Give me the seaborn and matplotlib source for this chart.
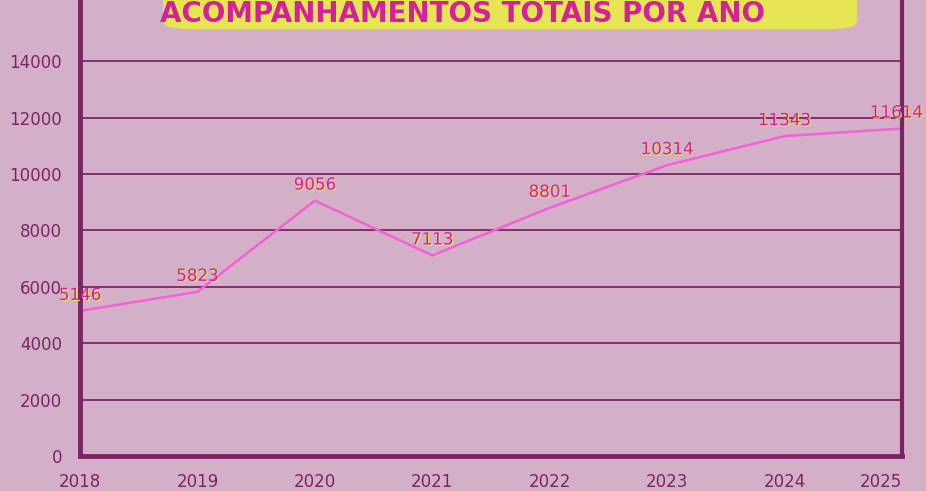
import numpy as np
import pandas as pd
import seaborn as sns
import matplotlib.pyplot as plt
import matplotlib.patheffects as pe
from matplotlib.patches import FancyBboxPatch

# Dados ########################################################################
anos = [2018, 2019, 2020, 2021, 2022, 2023, 2024, 2025]
acompanhamentos = [5146, 5823, 9056, 7113, 8801, 10314, 11343, 11614]
y_ticks = [0, 2000, 4000, 6000, 8000, 10000, 12000, 14000]
titulo = "ACOMPANHAMENTOS TOTAIS POR ANO"

df = pd.DataFrame({"ano": anos, "total": acompanhamentos})

# Cores #######################################################################
fundo = "#d4b0c8"
roxo = "#7a2563"
rosa_linha = "#f55fd8"
rosa_texto = "#d4209a"
amarelo = "#e6e655"

sns.set_theme(style="white")
plt.rcParams["font.family"] = ["DejaVu Sans"]

fig = plt.figure(figsize=(9.26, 4.91), dpi=100, facecolor=fundo)
ax = fig.add_axes([80 / 926, 1 - 456 / 491, 822 / 926, 456 / 491])
ax.set_facecolor(fundo)

sns.lineplot(data=df, x="ano", y="total", color=rosa_linha, linewidth=1.8, ax=ax)

for i, (x, y) in enumerate(zip(anos, acompanhamentos)):
    dx = -4 if i == len(anos) - 1 else 0
    ax.annotate(str(y), (x, y), xytext=(dx, 5), textcoords="offset points",
                ha="center", va="bottom", fontsize=12, color=rosa_texto,
                path_effects=[pe.withSimplePatchShadow(offset=(0.8, -0.8), shadow_rgbFace=amarelo, alpha=1)])

ax.set_xlim(2018, 2025)
ax.set_ylim(0, 16170)
ax.set_yticks(y_ticks)
ax.set_xticks(anos)
ax.set_xlabel("")
ax.set_ylabel("")
ax.grid(axis="y", color=roxo, linewidth=1.3)
ax.grid(axis="x", visible=False)

for s in ["left", "bottom", "right"]:
    ax.spines[s].set_color(roxo)
    ax.spines[s].set_linewidth(3.5)
ax.spines["right"].set_linewidth(3)
ax.spines["top"].set_visible(False)

ax.tick_params(axis="x", colors=roxo, labelsize=12, length=7, width=1.2, direction="out", pad=5)
ax.tick_params(axis="y", colors=roxo, labelsize=12, length=0, pad=13)
for lab in ax.get_xticklabels() + ax.get_yticklabels():
    lab.set_color(roxo)
# ultimo rotulo do eixo x alinhado a direita para nao cortar
ax.get_xticklabels()[-1].set_horizontalalignment("right")

# Titulo ######################################################################
caixa = FancyBboxPatch((163 / 926, 1 - 29 / 491), 694 / 926, 0.2,
                       boxstyle="round,pad=0,rounding_size=0.03",
                       transform=fig.transFigure, facecolor=amarelo, edgecolor="none",
                       mutation_aspect=491 / 926)
fig.patches.append(caixa)
fig.text(0.5, 1 - 22 / 491, titulo, ha="center", va="baseline", fontsize=20,
         fontweight="bold", color=rosa_texto)

fig.savefig("out.png", dpi=100, facecolor=fundo)
